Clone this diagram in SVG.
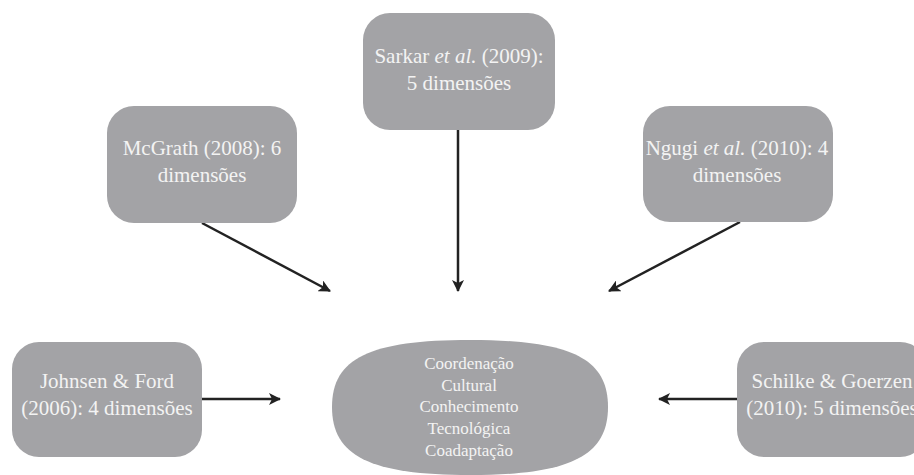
<svg xmlns="http://www.w3.org/2000/svg" width="914" height="475" viewBox="0 0 914 475">
<style>
.box{fill:#a3a3a6}
.t{font-family:"Liberation Serif","Times New Roman",serif;font-size:21px;fill:#f3f3f3;text-anchor:middle}
.e{font-family:"Liberation Serif","Times New Roman",serif;font-size:17px;fill:#f3f3f3;text-anchor:middle}
.c{stroke:#222;stroke-width:2.5;fill:none;marker-end:url(#ah)}
</style>
<defs>
<marker id="ah" viewBox="0 0 12 12" refX="11" refY="6" markerWidth="12" markerHeight="12" markerUnits="userSpaceOnUse" orient="auto">
<path d="M0,0 L12,6 L0,12 L3,6 z" fill="#222"/>
</marker>
</defs>
<rect width="914" height="475" fill="#fff"/>
<g id="connectors">
<line class="c" x1="202" y1="223" x2="330" y2="291"/>
<line class="c" x1="458" y1="130" x2="458" y2="291"/>
<line class="c" x1="740" y1="222" x2="609" y2="291"/>
<line class="c" x1="202" y1="399" x2="280" y2="399"/>
<line class="c" x1="737" y1="399" x2="659" y2="399"/>
</g>
<g id="sarkar">
<rect class="box" x="363" y="13" width="192" height="117" rx="27"/>
<text class="t" x="459" y="63">Sarkar <tspan font-style="italic">et al.</tspan> (2009):</text>
<text class="t" x="459" y="90">5 dimensões</text>
</g>
<g id="mcgrath">
<rect class="box" x="107" y="106" width="190" height="117" rx="27"/>
<text class="t" x="202" y="155">McGrath (2008): 6</text>
<text class="t" x="202" y="182">dimensões</text>
</g>
<g id="ngugi">
<rect class="box" x="643" y="106" width="190" height="116" rx="27"/>
<text class="t" x="737" y="155">Ngugi <tspan font-style="italic">et al.</tspan> (2010): 4</text>
<text class="t" x="737" y="182">dimensões</text>
</g>
<g id="johnsen">
<rect class="box" x="12" y="342" width="190" height="115" rx="27"/>
<text class="t" x="107" y="388">Johnsen &amp; Ford</text>
<text class="t" x="107" y="415">(2006): 4 dimensões</text>
</g>
<g id="schilke">
<rect class="box" x="737" y="342" width="190" height="115" rx="27"/>
<text class="t" x="832" y="388">Schilke &amp; Goerzen</text>
<text class="t" x="832" y="415">(2010): 5 dimensões</text>
</g>
<g id="center">
<path class="box" d="M332,407 C332,358 370,340 470,340 C570,340 608,358 608,407 C608,456 570,475 470,475 C370,475 332,456 332,407 Z"/>
<text class="e" x="469" y="369">Coordenação</text>
<text class="e" x="469" y="391">Cultural</text>
<text class="e" x="469" y="412">Conhecimento</text>
<text class="e" x="469" y="434">Tecnológica</text>
<text class="e" x="469" y="456">Coadaptação</text>
</g>
</svg>
